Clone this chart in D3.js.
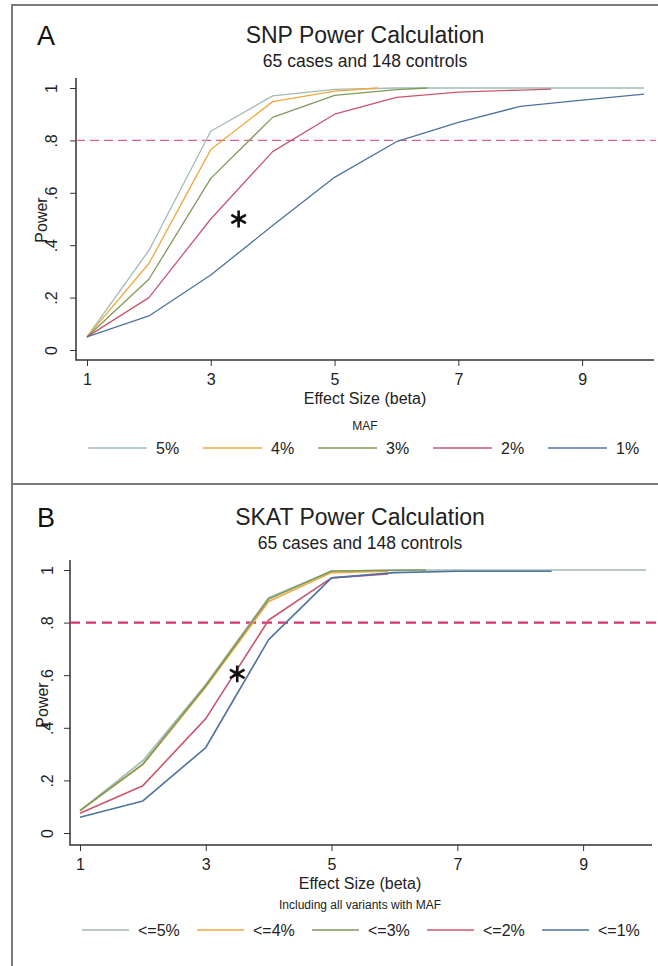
<!DOCTYPE html>
<html>
<head>
<meta charset="utf-8">
<script src="https://cdn.jsdelivr.net/npm/d3@7"></script>
<style>
  body { margin: 0; background: #fff; }
  svg { display: block; font-family: "Liberation Sans", Arial, sans-serif; }
</style>
</head>
<body>
<div id="chart"></div>
<script>
// ---- data ----
const seriesNames = ['5%', '4%', '3%', '2%', '1%'];
const seriesNamesB = ['<=5%', '<=4%', '<=3%', '<=2%', '<=1%'];
const colors = ['#a3bab3', '#f0a83c', '#7e9a5a', '#c9566e', '#4e72a0'];

const xTicks = [1, 3, 5, 7, 9];
const yTicks = [0, 0.2, 0.4, 0.6, 0.8, 1];

// panel A: SNP power
const snpBeta = [
    [1, 2, 3, 4, 5, 6, 7, 8, 9, 10],
    [1, 2, 3, 4, 5, 5.7],
    [1, 2, 3, 4, 5, 6, 6.5],
    [1, 2, 3, 4, 5, 6, 7, 8, 8.5],
    [1, 2, 3, 4, 5, 6, 7, 8, 9, 10]
];
const snpPower = [
    [0.05, 0.38, 0.835, 0.97, 0.995, 1, 1, 1, 1, 1],
    [0.05, 0.33, 0.765, 0.948, 0.988, 1],
    [0.05, 0.27, 0.655, 0.888, 0.972, 0.994, 1],
    [0.05, 0.20, 0.50, 0.757, 0.90, 0.964, 0.984, 0.992, 0.996],
    [0.05, 0.13, 0.286, 0.475, 0.659, 0.795, 0.869, 0.93, 0.954, 0.977]
];

// panel B: SKAT power
const skatBeta = [
    [1, 2, 3, 4, 5, 6, 7, 8, 9, 10],
    [1, 2, 3, 4, 5, 5.9],
    [1, 2, 3, 4, 5, 6.5],
    [1, 2, 3, 4, 5, 5.9],
    [1, 2, 3, 4, 5, 6, 7, 8, 8.5]
];
const skatPower = [
    [0.085, 0.275, 0.565, 0.895, 0.995, 1, 1, 1, 1, 1],
    [0.085, 0.26, 0.555, 0.88, 0.99, 0.995],
    [0.085, 0.262, 0.56, 0.89, 0.996, 1],
    [0.075, 0.18, 0.435, 0.81, 0.97, 0.985],
    [0.06, 0.122, 0.325, 0.735, 0.97, 0.99, 0.995, 0.995, 0.995]
];

const refLine = 0.8;
const starA = [3.45, 0.5];
const starB = [3.5, 0.605];

// ---- drawing ----
const width = 658, height = 966;
const svg = d3.select('#chart').append('svg')
    .attr('width', width).attr('height', height);

// frame
const frame = svg.append('g').attr('stroke', '#7a7a7a').attr('stroke-width', 2).attr('fill', 'none');
frame.append('path').attr('d', `M12,${height} V5 H658`);
frame.append('path').attr('d', 'M12,484 H658');

const fmt = v => v === 0 ? '0' : v === 1 ? '1' : d3.format('.1f')(v).replace(/^0/, '');

function panel(p) {
    const x = d3.scaleLinear().domain([1, 10]).range([p.x1, p.x10]);
    const y = d3.scaleLinear().domain([0, 1]).range([p.y0, p.y1]);
    const g = svg.append('g');

    g.append('text').attr('x', 37).attr('y', p.top + 40)
        .attr('font-size', 27).attr('fill', '#111').text(p.letter);
    g.append('text').attr('x', p.cx).attr('y', p.top + 38)
        .attr('text-anchor', 'middle').attr('font-size', 23).attr('fill', '#222').text(p.title);
    g.append('text').attr('x', p.cx).attr('y', p.top + 62)
        .attr('text-anchor', 'middle').attr('font-size', 17.5).attr('fill', '#222').text('65 cases and 148 controls');

    // axes
    const yAxis = g.append('g').attr('transform', `translate(${p.ax},0)`)
        .call(d3.axisLeft(y).tickValues(yTicks).tickFormat(fmt).tickSize(6).tickSizeOuter(0));
    yAxis.select('.domain').remove();
    yAxis.selectAll('line').attr('stroke', '#333');
    yAxis.selectAll('text')
        .attr('x', null).attr('dy', null)
        .attr('transform', `translate(${p.labOff},0) rotate(-90)`)
        .attr('text-anchor', 'middle').attr('font-size', 16).attr('fill', '#222')
        .attr('font-family', '"Liberation Sans", Arial, sans-serif');

    const xAxis = g.append('g').attr('transform', `translate(0,${p.ay})`)
        .call(d3.axisBottom(x).tickValues(xTicks).tickFormat(d3.format('d')).tickSize(6).tickSizeOuter(0));
    xAxis.select('.domain').remove();
    xAxis.selectAll('line').attr('stroke', '#333');
    xAxis.selectAll('text').attr('y', 14).attr('dy', '0.71em')
        .attr('font-size', 16).attr('fill', '#222')
        .attr('font-family', '"Liberation Sans", Arial, sans-serif');

    g.append('path').attr('d', `M${p.ax},${p.y1 - 10} V${p.ay} H${p.right}`)
        .attr('fill', 'none').attr('stroke', '#333').attr('stroke-width', 1.5);

    g.append('text').attr('transform', `translate(${p.powX},${p.powY}) rotate(-90)`)
        .attr('text-anchor', 'middle').attr('font-size', 16).attr('fill', '#222').text('Power');
    g.append('text').attr('x', p.cx).attr('y', p.ay + 44)
        .attr('text-anchor', 'middle').attr('font-size', 16).attr('fill', '#222').text('Effect Size (beta)');

    // reference line
    g.append('line').attr('x1', p.ax).attr('x2', 656)
        .attr('y1', y(refLine)).attr('y2', y(refLine))
        .attr('stroke', p.refColor).attr('stroke-width', p.refWidth)
        .attr('stroke-dasharray', p.dash);

    // curves
    const line = d3.line().x(d => x(d[0])).y(d => y(d[1]));
    p.betas.forEach((b, i) => {
        g.append('path')
            .datum(b.map((v, j) => [v, p.power[i][j]]))
            .attr('d', line)
            .attr('fill', 'none').attr('stroke', colors[i])
            .attr('stroke-width', p.lw).attr('stroke-linejoin', 'round');
    });

    // asterisk
    g.append('path')
        .attr('transform', `translate(${x(p.star[0])},${y(p.star[1])})`)
        .attr('d', d3.symbol(d3.symbolAsterisk, 200))
        .attr('fill', 'none').attr('stroke', '#111').attr('stroke-width', 2.6);

    // legend
    g.append('text').attr('x', p.cx).attr('y', p.legTitleY)
        .attr('text-anchor', 'middle').attr('font-size', p.legTitleSize).attr('fill', '#222').text(p.legTitle);
    const leg = g.append('g').selectAll('g').data(p.names).join('g')
        .attr('transform', (d, i) => `translate(${p.legX + i * 115},${p.legY})`);
    leg.append('line').attr('x1', 0).attr('x2', p.legLen)
        .attr('stroke', (d, i) => colors[i]).attr('stroke-width', 1.5);
    leg.append('text').attr('x', p.legLen + 9).attr('dy', '0.35em')
        .attr('font-size', 16).attr('fill', '#222').text(d => d);
}

panel({
    letter: 'A', title: 'SNP Power Calculation', top: 5, cx: 365,
    x1: 87, x10: 644, y0: 350, y1: 88, ax: 76, ay: 360, right: 654, labOff: -19,
    powX: 47, powY: 220,
    refColor: '#d9608a', refWidth: 1.4, dash: '9,5', lw: 1.3,
    betas: snpBeta, power: snpPower, star: starA,
    legTitle: 'MAF', legTitleSize: 12, legTitleY: 430,
    names: seriesNames, legX: 88, legY: 448, legLen: 59
});

panel({
    letter: 'B', title: 'SKAT Power Calculation', top: 487, cx: 360,
    x1: 80, x10: 646, y0: 833, y1: 570, ax: 70, ay: 845, right: 652, labOff: -17,
    powX: 48, powY: 705,
    refColor: '#d6336c', refWidth: 2.2, dash: '10,6', lw: 1.6,
    betas: skatBeta, power: skatPower, star: starB,
    legTitle: 'Including all variants with MAF', legTitleSize: 12, legTitleY: 909,
    names: seriesNamesB, legX: 82, legY: 930, legLen: 47
});
</script>
</body>
</html>
